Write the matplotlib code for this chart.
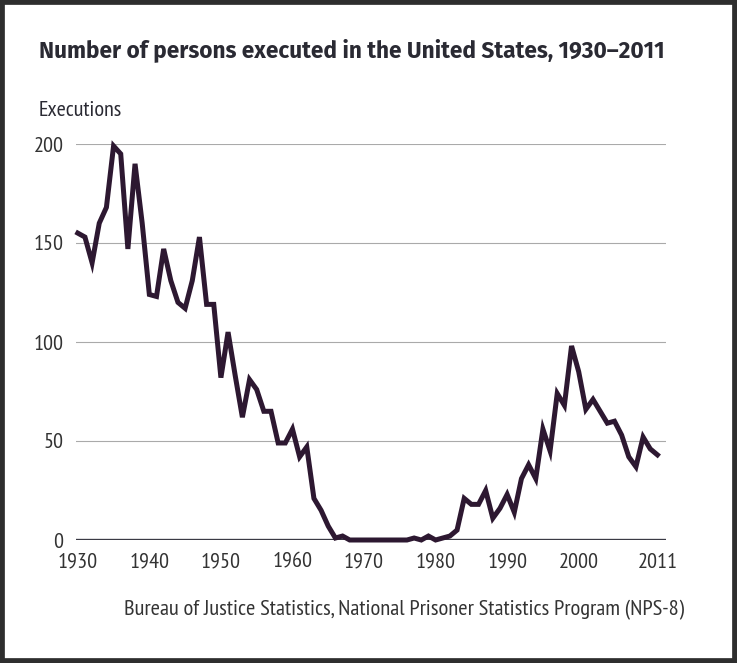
import matplotlib
matplotlib.use("Agg")
import matplotlib.pyplot as plt
from matplotlib.patches import Rectangle

plt.rcParams['font.family'] = ['PT Sans Narrow', 'DejaVu Sans']

years = list(range(1930, 2012))
executions = [155, 153, 140, 160, 168, 199, 195, 147, 190, 160,
              124, 123, 147, 131, 120, 117, 131, 153, 119, 119,
              82, 105, 83, 62, 81, 76, 65, 65, 49, 49,
              56, 42, 47, 21, 15, 7, 1, 2, 0, 0,
              0, 0, 0, 0, 0, 0, 0, 1, 0, 2,
              0, 1, 2, 5, 21, 18, 18, 25, 11, 16,
              23, 14, 31, 38, 31, 56, 45, 74, 68, 98,
              85, 66, 71, 65, 59, 60, 53, 42, 37, 52,
              46, 43]
xticks = [1930, 1940, 1950, 1960, 1970, 1980, 1990, 2000, 2011]
yticks = [0, 50, 100, 150, 200]

W, H = 737, 663
fig = plt.figure(figsize=(W / 100, H / 100), dpi=100)
fig.patch.set_facecolor('white')

# outer frame
fig.patches.append(Rectangle((0, 0), 1, 1, transform=fig.transFigure,
                             fill=False, edgecolor='#2e2e2e', linewidth=7))

left, right = 76 / W, 666 / W
bottom, top = (H - 540) / H, (H - 144) / H
ax = fig.add_axes([left, bottom, right - left, top - bottom])
ax.set_xlim(1929.75, 2012.2)
ax.set_ylim(0, 200)

for y in yticks[1:]:
    ax.axhline(y, color='#aaaaaa', linewidth=0.8, zorder=1)
ax.axhline(0, color='#3a3a44', linewidth=2.4, zorder=2)

ax.plot(years, executions, color='#2d1831', linewidth=3.6,
        solid_joinstyle='miter', zorder=3, clip_on=False)

for s in ax.spines.values():
    s.set_visible(False)
ax.set_xticks(xticks)
ax.set_yticks(yticks)
ax.tick_params(length=0, labelsize=16, colors='#333333')
ax.tick_params(axis='y', pad=9)
ax.tick_params(axis='x', pad=9)

fig.text(39 / W, 1 - 50 / H, 'Number of persons executed in the United States, 1930\u20132011',
         fontsize=16.3, fontweight='bold', color='#2a2a33', va='center', ha='left',
         family=['Fira Sans', 'PT Sans Narrow', 'DejaVu Sans'])
fig.text(39 / W, 1 - 110 / H, 'Executions', fontsize=16, color='#2a2a33',
         va='center', ha='left')
fig.text(684 / W, 1 - 610 / H,
         'Bureau of Justice Statistics, National Prisoner Statistics Program (NPS-8)',
         fontsize=16.2, color='#333333', va='center', ha='right')

fig.savefig('out.png', dpi=100)
